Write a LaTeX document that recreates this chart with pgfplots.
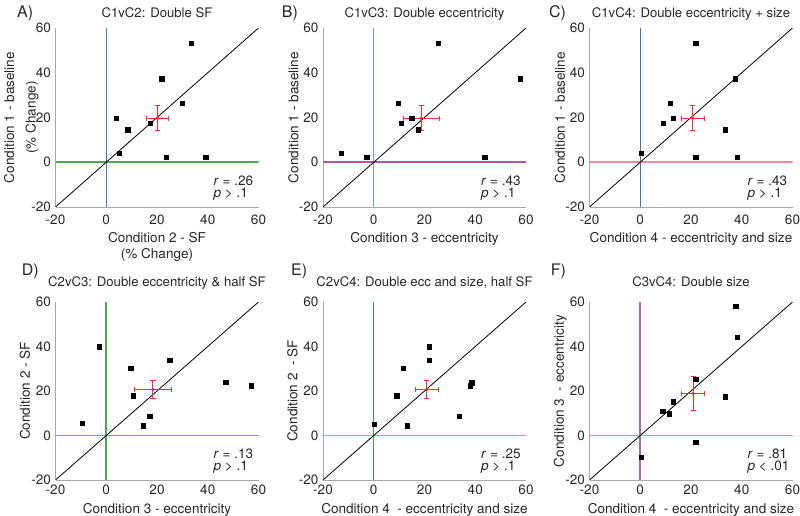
\documentclass[border=0pt]{standalone}
\usepackage{fontspec}
\setmainfont{TeX Gyre Heros}
\usepackage{pgfplots}
\pgfplotsset{compat=1.18}
\definecolor{txt}{HTML}{262626}
\definecolor{axisgray}{HTML}{A8A8A8}
\definecolor{zblue}{HTML}{3D76BD}
\definecolor{zlblue}{HTML}{6A9FD8}
\definecolor{zgreen}{HTML}{4DAA52}
\definecolor{zgreenb}{HTML}{3FA048}
\definecolor{zmag}{HTML}{B5569E}
\definecolor{zpink}{HTML}{F2889A}
\definecolor{zpurp}{HTML}{B266A6}
\definecolor{zpurpl}{HTML}{C977B9}
\definecolor{meanred}{HTML}{FF2E2E}
\newcommand\fs{\fontsize{13.6}{16.5}\selectfont}
\newcommand\ft{\fontsize{13.2}{16}\selectfont}
\pgfplotsset{
  panel/.style={
    scale only axis, width=203bp, anchor=south west,
    xmin=-20, xmax=60, ymin=-20, ymax=60,
    xtick={-20,0,20,40,60}, ytick={-20,0,20,40,60},
    axis x line*=bottom, axis y line*=left,
    axis line style={draw=axisgray, line width=0.7bp},
    major tick length=0pt,
    tick label style={font=\fs, text=txt},
    yticklabel style={xshift=-1bp},
    /pgf/number format/assume math mode=true,
    title style={font=\ft, text=txt, at={(axis description cs:0.5,1)}, anchor=base, inner sep=0pt},
    xlabel style={font=\fs, text=txt, at={(axis description cs:0.5,0)}, anchor=north, inner sep=0pt, align=center},
    ylabel style={font=\fs, text=txt, anchor=north, inner sep=0pt, align=center},
  },
  row1/.style={height=179bp, title style={yshift=4.5bp}, xticklabel style={yshift=-4bp}, xlabel style={yshift=-25bp},
    ylabel style={at={(axis description cs:-0.1724,0.5)}}},
  row2/.style={height=178bp, title style={yshift=10bp}, xticklabel style={yshift=-1bp}, xlabel style={yshift=-23bp},
    ylabel style={at={(axis description cs:-0.1773,0.5)}}},
  diag/.style={black, line width=0.8bp},
  pts/.style={only marks, mark=square*, mark size=2.15bp, black},
  meanpt/.style={only marks, mark=*, mark size=1.6bp, meanred, mark options={fill=meanred, draw=meanred},
    error bars/.cd, x dir=both, x explicit, y dir=both, y explicit,
    error bar style={line width=1bp, meanred},
    error mark options={rotate=90, line width=1bp, meanred, mark size=2.6bp}},
}
\newcommand\stats[2]{%
  \node[anchor=base west, inner sep=0pt, text=txt, font=\fs] at (rel axis cs:0.778,0) [yshift=21.5bp] {\textit{r} = #1};
  \node[anchor=base west, inner sep=0pt, text=txt, font=\fs] at (rel axis cs:0.778,0) [yshift=9.5bp] {\textit{p} #2};
}
\begin{document}
\begin{tikzpicture}[font=\fs]
\useasboundingbox (0,0) rectangle (800bp,516bp);

% ---------------- A
\begin{axis}[panel,row1, at={(55.5bp,309bp)},
  title={C1vC2: Double SF},
  xlabel={Condition 2 - SF\\(\% Change)},
  ylabel={Condition 1 - baseline\\[5bp](\% Change)},
  ylabel style={at={(axis description cs:-0.2547,0.5)}}]
\addplot[zblue, line width=1.3bp] coordinates {(0,-20) (0,60)};
\addplot[zgreen, line width=2bp] coordinates {(-20,0) (60,0)};
\addplot[diag] coordinates {(-20,-20) (60,60)};
\addplot[pts] coordinates {(4.0,19.7) (5.2,4.0) (8.5,14.5) (17.4,17.5) (21.9,37.4) (23.6,2.4) (29.9,26.3) (33.6,53.1) (39.2,2.4)};
\addplot[meanpt] coordinates {(20.3,19.7) +- (4.3,5.6)};
\stats{.26}{> .1}
\end{axis}

% ---------------- B
\begin{axis}[panel,row1, at={(323bp,309bp)},
  title={C1vC3: Double eccentricity},
  xlabel={Condition 3 - eccentricity},
  ylabel={Condition 1 - baseline}]
\addplot[zlblue, line width=1.3bp] coordinates {(0,-20) (0,60)};
\addplot[zmag, line width=2bp] coordinates {(-20,0) (60,0)};
\addplot[diag] coordinates {(-20,-20) (60,60)};
\addplot[pts] coordinates {(-12.9,4.0) (-2.8,2.4) (9.6,26.3) (10.8,17.5) (15.0,19.7) (17.5,14.5) (25.3,53.1) (43.7,2.4) (57.7,37.4)};
\addplot[meanpt] coordinates {(18.7,19.7) +- (7.1,5.6)};
\stats{.43}{> .1}
\end{axis}

% ---------------- C
\begin{axis}[panel,row1, at={(589.5bp,309bp)},
  title={C1vC4: Double eccentricity + size},
  xlabel={Condition 4 - eccentricity and size},
  ylabel={Condition 1 - baseline}]
\addplot[zblue, line width=1.2bp] coordinates {(0,-20) (0,60)};
\addplot[zpink, line width=1.7bp] coordinates {(-20,0) (60,0)};
\addplot[diag] coordinates {(-20,-20) (60,60)};
\addplot[pts] coordinates {(0.3,4.0) (9.0,17.5) (11.7,26.3) (13.1,19.7) (21.8,53.1) (21.9,2.4) (33.4,14.5) (37.5,37.4) (38.3,2.4)};
\addplot[meanpt] coordinates {(20.7,19.7) +- (4.6,5.6)};
\stats{.43}{> .1}
\end{axis}

% ---------------- D
\begin{axis}[panel,row2, at={(55.5bp,36bp)},
  title={C2vC3: Double eccentricity \& half SF},
  xlabel={Condition 3 - eccentricity},
  ylabel={Condition 2 - SF}]
\addplot[zgreen, line width=1.7bp] coordinates {(0,-20) (0,60)};
\addplot[zpurpl, line width=1.7bp] coordinates {(-20,0) (60,0)};
\addplot[diag] coordinates {(-20,-20) (60,60)};
\addplot[pts] coordinates {(-9.5,5.4) (-2.9,39.9) (9.6,30.2) (10.7,17.9) (14.6,4.4) (17.1,8.7) (25.0,33.9) (47.1,23.9) (57.2,22.4)};
\addplot[meanpt] coordinates {(18.4,20.7) +- (7.2,4.1)};
\stats{.13}{> .1}
\end{axis}

% ---------------- E
\begin{axis}[panel,row2, at={(323bp,36bp)},
  title={C2vC4: Double ecc and size, half SF},
  xlabel={Condition 4\ \ - eccentricity and size},
  ylabel={Condition 2\ \ - SF}]
\addplot[zgreenb, line width=1.3bp] coordinates {(0,-20) (0,60)};
\addplot[zpink, line width=1.4bp] coordinates {(-20,0) (60,0)};
\addplot[diag] coordinates {(-20,-20) (60,60)};
\addplot[pts] coordinates {(0.3,5.1) (9.1,17.9) (11.6,30.2) (13.1,4.4) (21.8,39.9) (21.8,33.9) (33.7,8.7) (38.0,22.4) (38.6,23.7)};
\addplot[meanpt] coordinates {(20.9,20.7) +- (4.6,4.1)};
\stats{.25}{> .1}
\end{axis}

% ---------------- F
\begin{axis}[panel,row2, at={(589.5bp,36bp)},
  title={C3vC4: Double size},
  xlabel={Condition 4\ \ - eccentricity and size},
  ylabel={Condition 3\ \ - eccentricity}]
\addplot[zpurp, line width=2.4bp] coordinates {(0,-20) (0,60)};
\addplot[zpink, line width=1.4bp] coordinates {(-20,0) (60,0)};
\addplot[diag] coordinates {(-20,-20) (60,60)};
\addplot[pts] coordinates {(0.3,-9.6) (8.9,11.0) (11.5,9.8) (13.1,15.2) (21.8,25.4) (21.8,-2.9) (33.4,17.4) (37.6,58.1) (38.3,44.3)};
\addplot[meanpt] coordinates {(20.9,18.9) +- (4.6,7.5)};
\stats{.81}{< .01}
\end{axis}

% panel letters
\begin{scope}[every node/.style={anchor=base west, inner sep=0pt, text=txt, font=\fontsize{16}{18}\selectfont}]
\node at (17bp,498.7bp) {A)};
\node at (281.7bp,498.7bp) {B)};
\node at (549bp,498.7bp) {C)};
\node at (21.7bp,240bp) {D)};
\node at (291bp,240bp) {E)};
\node at (550.7bp,240bp) {F)};
\end{scope}
\end{tikzpicture}
\end{document}
